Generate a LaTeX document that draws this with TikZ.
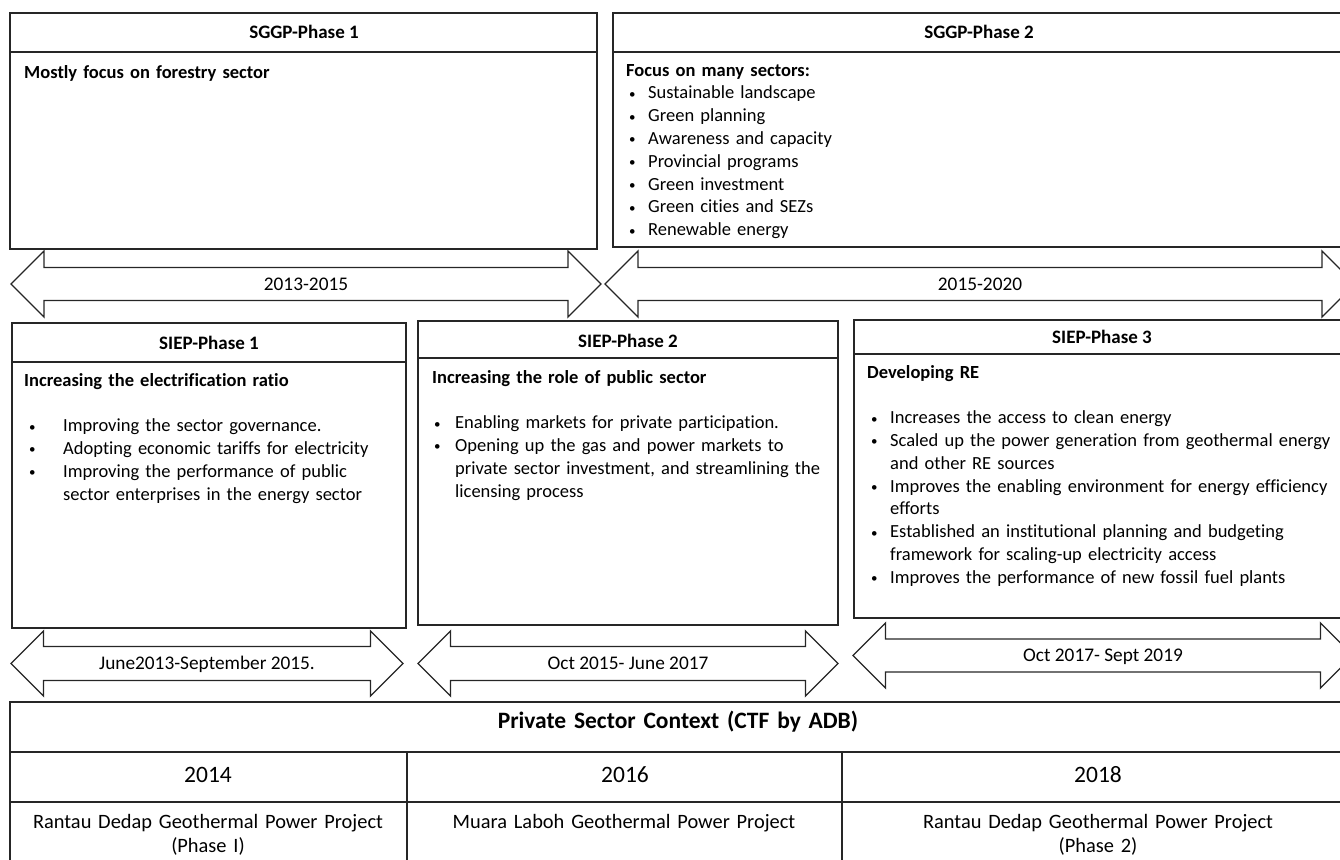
\documentclass[tikz,border=0pt]{standalone}
\usepackage{fontspec}
\setmainfont{Carlito}[Ligatures={NoCommon}]
\usepackage{tikz}
\usetikzlibrary{positioning}

\newcommand{\bul}[1]{\makebox[#1][l]{\raisebox{0.6pt}{\fontsize{13}{13}\selectfont\textbullet}}}

\begin{document}
\begin{tikzpicture}[
  x=1pt, y=-1pt,
  box/.style={draw=black!85, line width=1.3pt},
  title/.style={font=\fontsize{19}{23}\selectfont\bfseries, anchor=base, inner sep=0pt},
  body/.style={font=\fontsize{18.5}{22.8}\selectfont, anchor=base west, inner sep=0pt, text width=#1, align=left},
  span/.style={draw=black!85, line width=1.3pt, line join=miter},
  datelbl/.style={font=\fontsize{19.3}{22}\selectfont, inner sep=0pt, text height=12pt, text depth=0pt},
  cell/.style={font=\fontsize{20.4}{24}\selectfont, anchor=base, inner sep=0pt, text width=#1, align=center}
]
\useasboundingbox (0,0) rectangle (1340,859);

% SGGP boxes
\draw[box] (10,13) rectangle (597,249);
\draw[box] (10,52) -- (597,52);
\draw[box] (613,13) rectangle (1345,247);
\draw[box] (613,52) -- (1345,52);
\node[title] (sg1) at (304,39) {SGGP-Phase 1};
\node[title] (sg2) at (979,39) {SGGP-Phase 2};
\node[body=560pt] (sg1txt) at (24,78) {\textbf{Mostly focus on forestry sector}};
\node[body=700pt] (sg2txt) at (626,76) {\textbf{Focus on many sectors:}\\
  \hspace*{3pt}\bul{19pt}Sustainable landscape\\
  \hspace*{3pt}\bul{19pt}Green planning\\
  \hspace*{3pt}\bul{19pt}Awareness and capacity\\
  \hspace*{3pt}\bul{19pt}Provincial programs\\
  \hspace*{3pt}\bul{19pt}Green investment\\
  \hspace*{3pt}\bul{19pt}Green cities and SEZs\\
  \hspace*{3pt}\bul{19pt}Renewable energy};

% SIEP boxes
\draw[box] (12,323) rectangle (406,628);
\draw[box] (12,362) -- (406,362);
\draw[box] (418,321) rectangle (838,625);
\draw[box] (418,358) -- (838,358);
\draw[box] (854,320) rectangle (1350,618);
\draw[box] (854,354) -- (1350,354);
\node[title] (si1) at (209,349) {SIEP-Phase 1};
\node[title] (si2) at (628,347) {SIEP-Phase 2};
\node[title] (si3) at (1102,343) {SIEP-Phase 3};
\node[body=380pt] (si1txt) at (24,386) {\textbf{Increasing the electrification ratio}\\[22.8pt]
  \hspace*{5pt}\bul{34pt}Improving the sector governance.\\
  \hspace*{5pt}\bul{34pt}Adopting economic tariffs for electricity\\
  \hspace*{5pt}\bul{34pt}Improving the performance of public\\
  \hspace*{39pt}sector enterprises in the energy sector};
\node[body=410pt] (si2txt) at (432,383) {\textbf{Increasing the role of public sector}\\[22.8pt]
  \hspace*{2pt}\bul{21pt}Enabling markets for private participation.\\
  \hspace*{2pt}\bul{21pt}Opening up the gas and power markets to\\
  \hspace*{23pt}private sector investment, and streamlining the\\
  \hspace*{23pt}licensing process};
\node[body=480pt] (si3txt) at (867,378) {\textbf{Developing RE}\\[22.8pt]
  \hspace*{4pt}\bul{19pt}Increases the access to clean energy\\
  \hspace*{4pt}\bul{19pt}Scaled up the power generation from geothermal energy\\
  \hspace*{23pt}and other RE sources\\
  \hspace*{4pt}\bul{19pt}Improves the enabling environment for energy efficiency\\
  \hspace*{23pt}efforts\\
  \hspace*{4pt}\bul{19pt}Established an institutional planning and budgeting\\
  \hspace*{23pt}framework for scaling-up electricity access\\
  \hspace*{4pt}\bul{19pt}Improves the performance of new fossil fuel plants};

% time spans
\foreach \xl/\xr/\yc/\hh/\sh/\nm/\lbl in {
    11/601/284/33/16.5/d1/{2013-2015},
    605/1355/284/33/16.5/d2/{2015-2020},
    11/403/663.5/32.5/17/d3/{June2013-September 2015.},
    418/838/663.5/32.5/17/d4/{Oct 2015- June 2017},
    853/1353/655.5/32.5/16.5/d5/{Oct 2017- Sept 2019}}{
  \draw[span] (\xl,\yc) -- ++(\hh,-\hh) -- ++(0,\hh-\sh) -- (\xr-\hh,\yc-\sh)
    -- ++(0,\sh-\hh) -- (\xr,\yc) -- ++(-\hh,\hh) -- ++(0,\sh-\hh)
    -- (\xl+\hh,\yc+\sh) -- ++(0,\hh-\sh) -- cycle;
  \node[datelbl] (\nm) at ({(\xl+\xr)/2},\yc) {\lbl};
}

% private sector table
\draw[box] (10,702) rectangle (1362,875);
\draw[box] (10,752) -- (1362,752);
\draw[box] (10,802) -- (1362,802);
\draw[box] (407,752) -- (407,875);
\draw[box] (842,752) -- (842,875);
\node[cell=800pt, font=\fontsize{23.5}{26}\selectfont\bfseries] (ctx) at (678,728) {Private Sector Context (CTF by ADB)};
\node[cell=380pt, font=\fontsize{23.5}{26}\selectfont] (y14) at (208,782) {2014};
\node[cell=420pt, font=\fontsize{23.5}{26}\selectfont] (y16) at (625,782) {2016};
\node[cell=480pt, font=\fontsize{23.5}{26}\selectfont] (y18) at (1098,782) {2018};
\node[cell=390pt] (pr1) at (208,828) {Rantau Dedap Geothermal Power Project\\(Phase I)};
\node[cell=420pt] (pr2) at (624,828) {Muara Laboh Geothermal Power Project};
\node[cell=480pt] (pr3) at (1098,828) {Rantau Dedap Geothermal Power Project\\(Phase 2)};
\end{tikzpicture}
\end{document}
